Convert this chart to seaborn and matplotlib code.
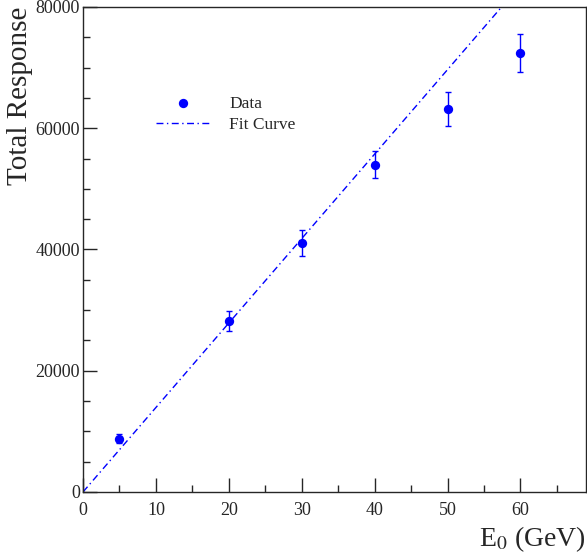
import numpy as np
import pandas as pd
import matplotlib
matplotlib.use("Agg")
import matplotlib.pyplot as plt
from matplotlib.ticker import MultipleLocator
import seaborn as sns

# data
energy = [5, 20, 30, 40, 50, 60]
response = [8800, 28200, 41100, 54000, 63100, 72400]
response_err = [800, 1600, 2100, 2200, 2800, 3200]

# fit curve endpoints (straight line through origin)
fit_x = [0, 60]
fit_y = [0, 83600]

sns.set_style("ticks")
plt.rcParams['font.family'] = ['Liberation Serif', 'DejaVu Serif']
plt.rcParams['mathtext.fontset'] = 'stix'

fig = plt.figure(figsize=(5.87, 5.59), dpi=100)
ax = fig.add_axes([0.1414, 0.1199, 0.857, 0.8676])

df = pd.DataFrame({"E0": energy, "resp": response, "err": response_err})
fit_df = pd.DataFrame({"x": fit_x, "y": fit_y})

sns.lineplot(data=fit_df, x="x", y="y", ax=ax, color="blue", lw=1,
             linestyle=(0, (5, 2.5, 1, 2.5)), label="Fit Curve")
ax.errorbar(df["E0"], df["resp"], yerr=df["err"], fmt="none",
            ecolor="blue", elinewidth=1, capsize=2.5, capthick=1)
sns.scatterplot(data=df, x="E0", y="resp", ax=ax, color="blue", s=45,
                edgecolor="blue", linewidth=0, label="Data", zorder=3)

ax.set_xlim(0, 69)
ax.set_ylim(0, 80000)
ax.xaxis.set_major_locator(MultipleLocator(10))
ax.xaxis.set_minor_locator(MultipleLocator(5))
ax.yaxis.set_major_locator(MultipleLocator(20000))
ax.yaxis.set_minor_locator(MultipleLocator(5000))
ax.tick_params(which="both", direction="in", top=False, right=False,
               labelsize=13)
ax.tick_params(axis="x", pad=7)
ax.tick_params(axis="y", pad=2)
ax.tick_params(which="major", length=10, width=1)
ax.tick_params(which="minor", length=5, width=1)
for s in ax.spines.values():
    s.set_linewidth(1)

ax.set_xlabel("E$_0$ (GeV)", fontsize=20, loc="right", labelpad=4)
ax.set_ylabel("Total Response", fontsize=21, loc="top", labelpad=2)

h, l = ax.get_legend_handles_labels()
order = [l.index("Data"), l.index("Fit Curve")]
ax.legend([h[i] for i in order], [l[i] for i in order], frameon=False,
          loc="upper left", bbox_to_anchor=(0.115, 0.85), fontsize=12.5,
          handlelength=3, handletextpad=1.2, labelspacing=0.3)

fig.savefig("out.png", dpi=100)
